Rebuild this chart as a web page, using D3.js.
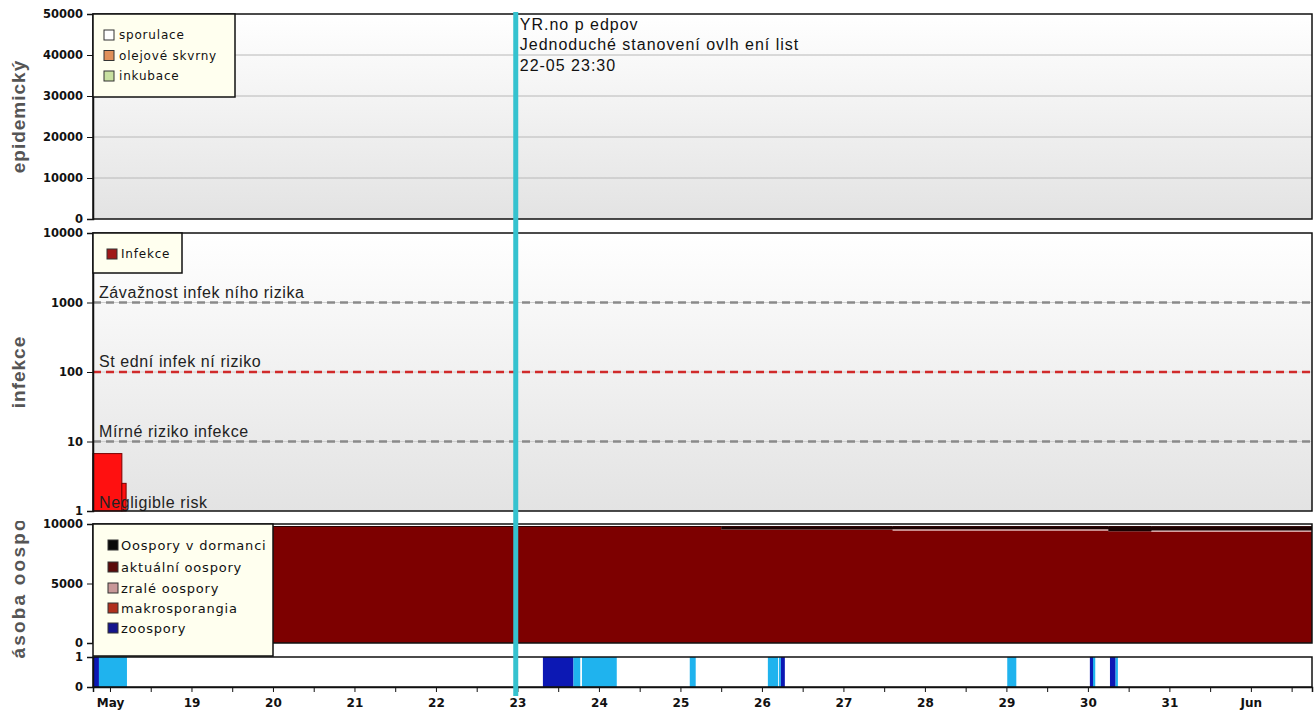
<!DOCTYPE html>
<html>
<head>
<meta charset="utf-8">
<script src="https://cdn.jsdelivr.net/npm/d3@7/dist/d3.min.js"></script>
<style>
  html, body { margin: 0; padding: 0; background: #ffffff; }
  svg { display: block; }
  .tick text { font-family: "DejaVu Sans", sans-serif; font-weight: bold; font-size: 11.5px; fill: #111; }
  .xaxis .tick text { font-size: 12px; }
  .title { font-family: "Liberation Sans", Arial, sans-serif; font-weight: bold; font-size: 19px; fill: #555; letter-spacing: 1px; }
  .legend text { font-family: "DejaVu Sans", sans-serif; font-size: 12px; fill: #111; }
  .risk { font-family: "Liberation Sans", Arial, sans-serif; font-size: 16px; fill: #222; letter-spacing: 0.6px; }
  .note { font-family: "Liberation Sans", Arial, sans-serif; font-size: 16px; fill: #111; letter-spacing: 1px; }
</style>
</head>
<body>
<svg id="chart" width="1314" height="711"></svg>
<script>
// ---- time axis ----
const domainStart = "2023-05-17 19:00";
const domainEnd   = "2023-06-01 18:00";
const dayTicks  = ["2023-05-18","2023-05-19","2023-05-20","2023-05-21","2023-05-22","2023-05-23","2023-05-24",
                   "2023-05-25","2023-05-26","2023-05-27","2023-05-28","2023-05-29","2023-05-30","2023-05-31","2023-06-01"];
const dayLabels = ["May","19","20","21","22","23","24","25","26","27","28","29","30","31","Jun"];

// ---- epidemic panel (no events in this period) ----
const epiSeries = ["sporulace", "olejové skvrny", "inkubace"];
const epiColors = ["#ffffff", "#e0905a", "#c8e0a0"];
const epiTicks  = [0, 10000, 20000, 30000, 40000, 50000];
const epiNote   = ["YR.no p edpov", "Jednoduché stanovení ovlh ení list", "22-05 23:30"];
const noteTime  = "2023-05-22 23:30";

// ---- infection panel ----
const infStart  = ["2023-05-17 19:00", "2023-05-18 03:30"];
const infEnd    = ["2023-05-18 03:30", "2023-05-18 04:45"];
const infValues = [6.7, 2.5];
const infTicks  = [1, 10, 100, 1000, 10000];
const riskValues = [1000, 100, 10, 1];
const riskLabels = ["Závažnost infek ního rizika", "St ední infek ní riziko", "Mírné riziko infekce", "Negligible risk"];
const riskColors = ["#8a8a8a", "#d02a2a", "#8a8a8a", null];

// ---- oospore stock panel ----
const stockKeys   = ["aktuální oospory", "zralé oospory", "Oospory v dormanci", "makrosporangia", "zoospory"];
const stockColors = ["#7d0000", "#d8a0a0", "#1a0202", "#b0301e", "#14148c"];
const legendOrder = ["Oospory v dormanci", "aktuální oospory", "zralé oospory", "makrosporangia", "zoospory"];
const legendColors = ["#0a0a0a", "#5a0a0a", "#c89898", "#b0301e", "#14148c"];
const stockTimes  = ["2023-05-17 19:00", "2023-05-25 12:00", "2023-05-27 14:30", "2023-05-30 06:00", "2023-05-30 18:45", "2023-06-01 18:00"];
const aktualni    = [9790, 9540, 9450, 9390, 9330, 9330];
const zrale       = [0, 0, 110, 0, 120, 120];
const dormanci    = [0, 250, 230, 400, 330, 330];
const makro       = [0, 0, 0, 0, 0, 0];
const zoo         = [0, 0, 0, 0, 0, 0];
const stockTicks  = [0, 5000, 10000];

// ---- wetness strip ----
const wetStart = ["2023-05-17 19:00","2023-05-17 20:45","2023-05-23 07:30","2023-05-23 16:30","2023-05-23 19:00",
                  "2023-05-25 02:45","2023-05-26 01:45","2023-05-26 05:00","2023-05-26 05:35","2023-05-29 00:15",
                  "2023-05-30 00:35","2023-05-30 01:30","2023-05-30 06:30","2023-05-30 08:10"];
const wetEnd   = ["2023-05-17 20:45","2023-05-18 05:00","2023-05-23 16:30","2023-05-23 18:30","2023-05-24 05:15",
                  "2023-05-25 04:30","2023-05-26 04:45","2023-05-26 05:35","2023-05-26 06:45","2023-05-29 02:55",
                  "2023-05-30 01:30","2023-05-30 02:10","2023-05-30 08:10","2023-05-30 08:50"];
const wetKind  = ["dark","light","dark","light","light","light","light","light","dark","light","dark","light","dark","light"];
const wetColors = { dark: "#0c18b4", light: "#1fb3ee" };
const stripTicks = [0, 1];

const parseT = d3.timeParse("%Y-%m-%d %H:%M");
const parseD = d3.timeParse("%Y-%m-%d");

const svg = d3.select("#chart");
const left = 93, right = 1312;
const P = {
  epi:   { top: 14,  bottom: 219 },
  inf:   { top: 233, bottom: 511 },
  stock: { top: 524, bottom: 643 },
  strip: { top: 657, bottom: 687 }
};

const x = d3.scaleTime().domain([parseT(domainStart), parseT(domainEnd)]).range([left, right]);
const yEpi = d3.scaleLinear().domain([0, 50000]).range([P.epi.bottom, P.epi.top]);
const yInf = d3.scaleLog().domain([1, 10000]).range([P.inf.bottom, P.inf.top]);
const yStock = d3.scaleLinear().domain([0, 10000]).range([P.stock.bottom, P.stock.top]);
const yStrip = d3.scaleLinear().domain([0, 1]).range([P.strip.bottom, P.strip.top]);

const defs = svg.append("defs");
const grad = defs.append("linearGradient").attr("id", "panelBg").attr("x1", 0).attr("y1", 0).attr("x2", 0).attr("y2", 1);
grad.append("stop").attr("offset", "0%").attr("stop-color", "#ffffff");
grad.append("stop").attr("offset", "100%").attr("stop-color", "#e3e3e3");

// panel backgrounds
[["epi", "url(#panelBg)"], ["inf", "url(#panelBg)"], ["stock", "#ffffff"], ["strip", "#ffffff"]].forEach(([k, fill]) => {
  svg.append("rect").attr("x", left).attr("y", P[k].top).attr("width", right - left)
    .attr("height", P[k].bottom - P[k].top).attr("fill", fill);
});

// grid lines
svg.append("g").selectAll("line").data(epiTicks.slice(1, -1)).join("line")
  .attr("x1", left).attr("x2", right).attr("y1", d => yEpi(d)).attr("y2", d => yEpi(d))
  .attr("stroke", "#b8b8b8").attr("stroke-width", 1);
svg.append("g").selectAll("line").data(infTicks.slice(1, -1)).join("line")
  .attr("x1", left).attr("x2", right).attr("y1", d => yInf(d)).attr("y2", d => yInf(d))
  .attr("stroke", "#d0d0d0").attr("stroke-width", 1);

// infection bars
svg.append("g").selectAll("rect").data(infValues).join("rect")
  .attr("x", (d, i) => x(parseT(infStart[i])))
  .attr("width", (d, i) => x(parseT(infEnd[i])) - x(parseT(infStart[i])))
  .attr("y", d => yInf(d)).attr("height", d => yInf(1) - yInf(d))
  .attr("fill", "#ff1010").attr("stroke", "#7a0000").attr("stroke-width", 1);

// risk thresholds
riskValues.forEach((v, i) => {
  if (riskColors[i]) {
    svg.append("line").attr("x1", left).attr("x2", right).attr("y1", yInf(v)).attr("y2", yInf(v))
      .attr("stroke", riskColors[i]).attr("stroke-width", 2.5).attr("stroke-dasharray", "8,5");
  }
  svg.append("text").attr("class", "risk").attr("x", 99)
    .attr("y", yInf(v) - (v === 1 ? 3 : 5)).text(riskLabels[i]);
});

// oospore stock (stacked, step-after)
const stockRows = stockTimes.map((t, i) => ({
  t: parseT(t),
  "aktuální oospory": aktualni[i], "zralé oospory": zrale[i], "Oospory v dormanci": dormanci[i],
  "makrosporangia": makro[i], "zoospory": zoo[i]
}));
const stacked = d3.stack().keys(stockKeys)(stockRows);
const area = d3.area().curve(d3.curveStepAfter)
  .x(d => x(d.data.t)).y0(d => yStock(d[0])).y1(d => yStock(d[1]));
svg.append("g").selectAll("path").data(stacked).join("path")
  .attr("d", area).attr("fill", (d, i) => stockColors[i]);
svg.append("path").datum(stacked[stacked.length - 1])
  .attr("d", d3.line().curve(d3.curveStepAfter).x(d => x(d.data.t)).y(d => yStock(d[1])))
  .attr("fill", "none").attr("stroke", "#2a0000").attr("stroke-width", 1);

// wetness strip
svg.append("g").selectAll("rect").data(wetKind).join("rect")
  .attr("x", (d, i) => x(parseT(wetStart[i])))
  .attr("width", (d, i) => x(parseT(wetEnd[i])) - x(parseT(wetStart[i])))
  .attr("y", yStrip(1)).attr("height", yStrip(0) - yStrip(1))
  .attr("fill", d => wetColors[d]);

// panel frames
Object.values(P).forEach(p => {
  svg.append("rect").attr("x", left).attr("y", p.top).attr("width", right - left)
    .attr("height", p.bottom - p.top).attr("fill", "none").attr("stroke", "#111").attr("stroke-width", 1.5);
});

// y axes
const fmt = d3.format("d");
svg.append("g").attr("transform", `translate(${left},0)`)
  .call(d3.axisLeft(yEpi).tickValues(epiTicks).tickFormat(fmt).tickSize(6).tickPadding(4));
svg.append("g").attr("transform", `translate(${left},0)`)
  .call(d3.axisLeft(yInf).tickValues(infTicks).tickFormat(fmt).tickSize(6).tickPadding(4));
svg.append("g").attr("transform", `translate(${left},0)`)
  .call(d3.axisLeft(yStock).tickValues(stockTicks).tickFormat(fmt).tickSize(6).tickPadding(4));
svg.append("g").attr("transform", `translate(${left},0)`)
  .call(d3.axisLeft(yStrip).tickValues(stripTicks).tickFormat(fmt).tickSize(6).tickPadding(4));

// x axis: ticks every 12 h, labels at midnight
const dayDates = dayTicks.map(parseD);
const halfTicks = d3.timeHour.every(12).range(parseT(domainStart), parseT(domainEnd));
const labelByTime = new Map(dayDates.map((d, i) => [+d, dayLabels[i]]));
svg.append("g").attr("class", "xaxis").attr("transform", `translate(0,${P.strip.bottom})`)
  .call(d3.axisBottom(x).tickValues(halfTicks).tickFormat(d => labelByTime.get(+d) || "").tickSize(5).tickPadding(6));

svg.selectAll(".domain").attr("stroke", "#111").attr("stroke-width", 1.5);
svg.selectAll(".tick line").attr("stroke", "#111");

// axis titles
svg.append("text").attr("class", "title").attr("text-anchor", "middle")
  .attr("transform", `translate(25,${(P.epi.top + P.epi.bottom) / 2}) rotate(-90)`).text("epidemický");
svg.append("text").attr("class", "title").attr("text-anchor", "middle")
  .attr("transform", `translate(25,${(P.inf.top + P.inf.bottom) / 2}) rotate(-90)`).text("infekce");
defs.append("clipPath").attr("id", "stockTitleClip").append("rect")
  .attr("x", 0).attr("y", 521).attr("width", 60).attr("height", 137);
svg.append("g").attr("clip-path", "url(#stockTitleClip)")
  .append("text").attr("class", "title").attr("text-anchor", "middle").style("letter-spacing", "2.2px")
  .attr("transform", `translate(25,590) rotate(-90)`).text("Zásoba oospor");

// legends
function legend(x0, y0, w, h, names, colors, rowY, swatchX, textX, fontSize) {
  const g = svg.append("g").attr("class", "legend");
  g.append("rect").attr("x", x0).attr("y", y0).attr("width", w).attr("height", h)
    .attr("fill", "#ffffef").attr("stroke", "#111").attr("stroke-width", 1.5);
  names.forEach((n, i) => {
    g.append("rect").attr("x", swatchX).attr("y", rowY[i] - 5).attr("width", 10).attr("height", 10)
      .attr("fill", colors[i]).attr("stroke", "#333").attr("stroke-width", 1);
    g.append("text").attr("x", textX).attr("y", rowY[i]).attr("dy", "0.35em")
      .style("font-size", fontSize + "px").style("letter-spacing", "0.8px").text(n);
  });
}
legend(left, P.epi.top, 142, 83, epiSeries, epiColors, [35, 55.5, 76], 104, 119, 12);
legend(left, P.inf.top, 89, 40, ["Infekce"], ["#a01818"], [254], 107, 121, 12);
legend(left, P.stock.top, 180, 132, legendOrder, legendColors, [545, 567, 588, 608, 628], 108, 121, 13);

// forecast annotation and vertical marker
const xn = x(parseT(noteTime));
svg.append("line").attr("x1", xn).attr("x2", xn).attr("y1", 12).attr("y2", 696)
  .attr("stroke", "#35c2cf").attr("stroke-width", 5);
epiNote.forEach((t, i) => {
  svg.append("text").attr("class", "note").attr("x", xn + 4).attr("y", 29.5 + i * 20.5).text(t);
});
</script>
</body>
</html>
